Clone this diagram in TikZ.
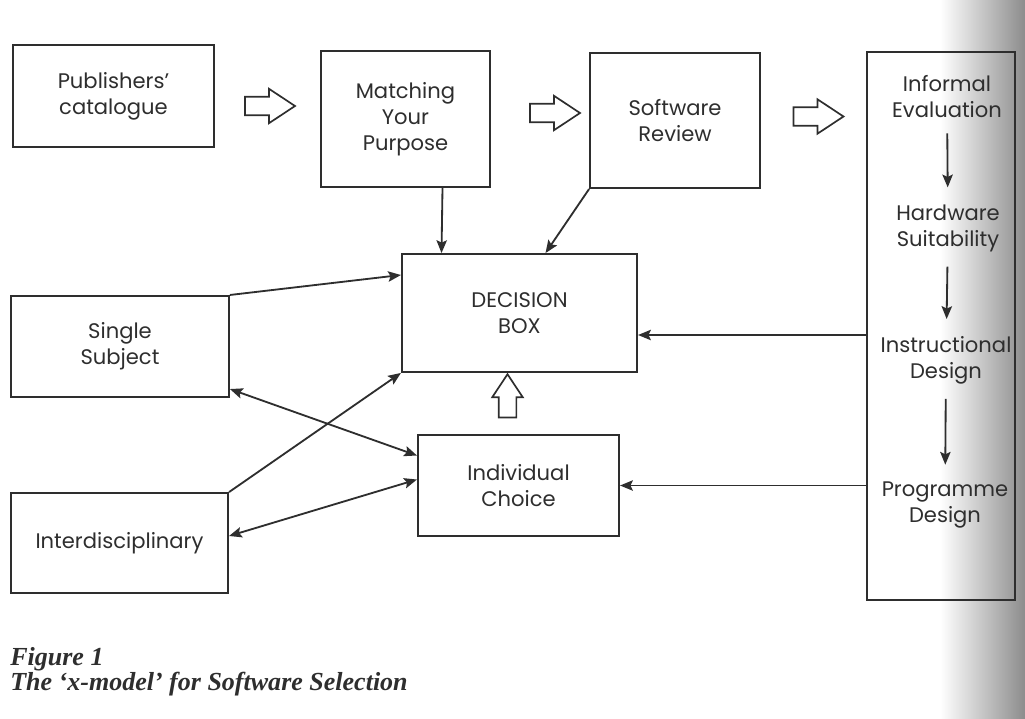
\documentclass[tikz,border=0pt]{standalone}
\usepackage{fontspec}
\setmainfont{Poppins}
\newfontfamily\capfont{Liberation Serif}
\usetikzlibrary{arrows.meta,shapes.arrows,calc}
\definecolor{ink}{HTML}{2E2E2E}

\begin{document}
\begin{tikzpicture}[x=0.025cm, y=-0.025cm,
box/.style={draw=ink, line width=1.3pt, rectangle, align=center, text=ink,
  font=\fontsize{15}{18.5}\selectfont, inner sep=0pt},
label/.style={align=center, text=ink, font=\fontsize{15}{18.5}\selectfont, inner sep=2pt},
hollow/.style={draw=ink, line width=1.2pt, single arrow, single arrow head extend=0.2cm,
  single arrow tip angle=67, inner xsep=0pt, inner ysep=0.21cm, minimum height=1.25cm},
link/.style={draw=ink, line width=1.3pt, -{Stealth[length=3.2mm,width=2.6mm,inset=0.6mm]}},
both/.style={draw=ink, line width=1.3pt, {Stealth[length=3.2mm,width=2.6mm,inset=0.6mm]}-{Stealth[length=3.2mm,width=2.6mm,inset=0.6mm]}}
]
\useasboundingbox (0,0) rectangle (1025,718);
% shadow of the scanned page
\shade[left color=white, right color=black!45] (940,0) rectangle (1025,718);

\node[box, minimum width=5.03cm, minimum height=2.55cm] (pub) at (113.5,96) {Publishers’\\catalogue};
\node[box, minimum width=4.23cm, minimum height=3.4cm] (match) at (405.5,119) {Matching\\Your\\Purpose};
\node[box, minimum width=4.25cm, minimum height=3.38cm] (review) at (675,120.5) {Software\\Review};
\node[box, minimum width=5.88cm, minimum height=2.95cm] (dec) at (519.5,313) {DECISION\\BOX};
\node[box, minimum width=5.03cm, minimum height=2.53cm] (indiv) at (518.5,485.5) {Individual\\Choice};
\node[box, minimum width=5.45cm, minimum height=2.53cm] (single) at (120,346.5) {Single\\Subject};
\node[box, minimum width=5.43cm, minimum height=2.5cm] (inter) at (119.5,543) {Interdisciplinary};
\node[box, minimum width=3.7cm, minimum height=13.7cm] (evalcol) at (941,326) {};

% steps inside the column
\node[label] (inf) at (947,97) {Informal\\Evaluation};
\node[label] (hard) at (948,228) {Hardware\\Suitability};
\node[label] (instr) at (946,360) {Instructional\\Design};
\node[label] (prog) at (945,505) {Programme\\Design};
\draw[link, shorten <=0.3cm, shorten >=0.35cm] (inf) -- (hard);
\draw[link, shorten <=0.3cm, shorten >=0.35cm] (hard) -- (instr);
\draw[link, shorten <=0.3cm, shorten >=0.35cm] (instr) -- (prog);

% hollow arrows
\node[hollow] (arr1) at (263,106) {};
\node[hollow] (arr2) at (548,113) {};
\node[hollow] (arr3) at (811.5,116.5) {};
\node[hollow, rotate=90, single arrow head extend=0.16cm, inner ysep=0.2cm,
  minimum height=1.08cm] (arrup) at (507.5,402.5) {};

% connectors
\draw[link] ($(match.south)+(37,0)$) -- ($(dec.north)+(-78,0)$);
\draw[link] (review.south west) -- ($(dec.north)+(26,0)$);
\draw[link] (single.north east) -- ($(dec.west)+(0,-38)$);
\draw[link] (inter.north east) -- (dec.south west);
\draw[both] ($(single.south east)+(0,-9)$) -- ($(indiv.west)+(0,-30)$);
\draw[both] ($(inter.east)+(0,-7)$) -- ($(indiv.west)+(0,-6)$);
\coordinate (decin) at ($(dec.east)+(0,22)$);
\draw[link] (evalcol.west |- decin) -- (decin);
\draw[link] (evalcol.west |- indiv.east) -- (indiv.east);

% caption
\node[anchor=base west, inner sep=0pt, text=ink, font=\capfont\bfseries\itshape\fontsize{18.5}{18.5}\selectfont] (fig) at (10,665) {Figure 1};
\node[anchor=base west, inner sep=0pt, text=ink, font=\capfont\bfseries\itshape\fontsize{18.5}{18.5}\selectfont] (title) at (10,690) {The ‘x-model’ for Software Selection};
\end{tikzpicture}
\end{document}
